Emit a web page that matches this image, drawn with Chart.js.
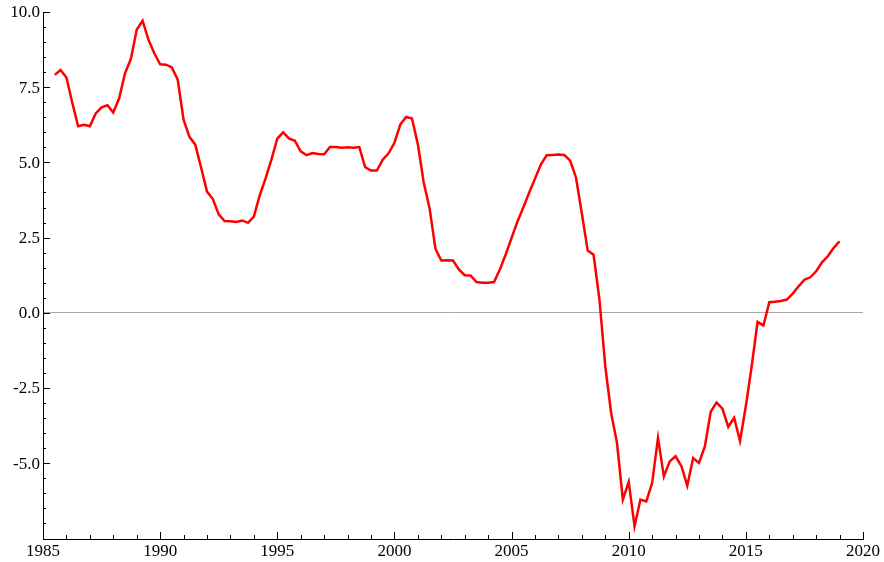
<!DOCTYPE html>
<html>
<head>
<meta charset="utf-8">
<script src="https://cdn.jsdelivr.net/npm/chart.js@4"></script>
<style>
    body { margin: 0; background: #fff; }
    #box { width: 884px; height: 562px; }
</style>
</head>
<body>
<div id="box"><canvas id="myChart"></canvas></div>
<script>
// quarterly series, first point 1985 Q3
const inicio = 1985.5;
const passo = 0.25;
const valores = [
    7.91, 8.07, 7.82, 6.98, 6.20, 6.25, 6.20, 6.63, 6.83, 6.90,
    6.66, 7.13, 7.96, 8.44, 9.41, 9.71, 9.08, 8.63, 8.26, 8.25,
    8.16, 7.75, 6.42, 5.85, 5.59, 4.82, 4.03, 3.78, 3.27, 3.05,
    3.04, 3.02, 3.07, 2.99, 3.20, 3.90, 4.47, 5.09, 5.79, 6.00,
    5.80, 5.72, 5.37, 5.24, 5.31, 5.28, 5.27, 5.51, 5.51, 5.49,
    5.50, 5.49, 5.51, 4.84, 4.73, 4.73, 5.09, 5.30, 5.65, 6.26,
    6.51, 6.46, 5.60, 4.33, 3.48, 2.13, 1.74, 1.75, 1.74, 1.44,
    1.25, 1.24, 1.02, 1.00, 1.00, 1.02, 1.44, 1.94, 2.49, 3.03,
    3.50, 3.99, 4.46, 4.93, 5.24, 5.25, 5.26, 5.25, 5.06, 4.50,
    3.30, 2.07, 1.93, 0.45, -1.78, -3.33, -4.33, -6.21, -5.62, -7.10,
    -6.21, -6.27, -5.66, -4.16, -5.44, -4.94, -4.77, -5.10, -5.75, -4.83,
    -4.99, -4.44, -3.29, -2.98, -3.19, -3.79, -3.49, -4.26, -3.10, -1.77,
    -0.30, -0.42, 0.35, 0.37, 0.39, 0.44, 0.64, 0.88, 1.10, 1.18,
    1.38, 1.68, 1.88, 2.16, 2.38
];
const xTicks = [1985, 1990, 1995, 2000, 2005, 2010, 2015, 2020];
const yTicks = [-5, -2.5, 0, 2.5, 5, 7.5, 10];
const xLabels = ['1985', '1990', '1995', '2000', '2005', '2010', '2015', '2020'];
const yLabels = ['-5.0', '-2.5', '0.0', '2.5', '5.0', '7.5', '10.0'];

const pontos = valores.map((v, i) => ({ x: inicio + i * passo, y: v }));

// inward ticks + serif labels like the original plot
const eixos = {
    id: 'eixos',
    afterDraw(chart) {
        const ctx = chart.ctx;
        const xs = chart.scales.x;
        const ys = chart.scales.y;
        const area = chart.chartArea;
        ctx.save();
        ctx.strokeStyle = '#000';
        ctx.lineWidth = 1;
        ctx.beginPath();
        for (let ano = xs.min; ano <= xs.max; ano++) {
            const px = Math.round(xs.getPixelForValue(ano)) + 0.5;
            const tam = xTicks.includes(ano) ? 7 : 4;
            ctx.moveTo(px, area.bottom);
            ctx.lineTo(px, area.bottom - tam);
        }
        for (let v = -7; v <= ys.max + 0.001; v += 0.5) {
            const py = Math.round(ys.getPixelForValue(v)) + 0.5;
            const tam = yTicks.includes(v) ? 7 : 3;
            ctx.moveTo(area.left, py);
            ctx.lineTo(area.left + tam, py);
        }
        ctx.stroke();

        ctx.fillStyle = '#000';
        ctx.font = "17px 'Liberation Serif', serif";
        ctx.textAlign = 'center';
        ctx.textBaseline = 'alphabetic';
        xTicks.forEach((v, i) => {
            ctx.fillText(xLabels[i], xs.getPixelForValue(v), area.bottom + 17);
        });
        ctx.textAlign = 'right';
        ctx.textBaseline = 'middle';
        yTicks.forEach((v, i) => {
            ctx.fillText(yLabels[i], area.left - 3, ys.getPixelForValue(v) + 1);
        });
        ctx.restore();
    }
};

new Chart(document.getElementById('myChart'), {
    type: 'line',
    data: {
        datasets: [{
            data: pontos,
            borderColor: '#ff0000',
            borderWidth: 2.5,
            pointRadius: 0,
            tension: 0,
            fill: false
        }]
    },
    options: {
        responsive: true,
        maintainAspectRatio: false,
        animation: false,
        layout: { padding: { top: 12, right: 21, left: 0, bottom: 0 } },
        plugins: { legend: { display: false }, tooltip: { enabled: false } },
        scales: {
            x: {
                type: 'linear',
                min: 1985,
                max: 2020,
                afterBuildTicks: (s) => { s.ticks = xTicks.map(v => ({ value: v })); },
                afterFit: (s) => { s.height = 23; },
                grid: { display: false, drawTicks: false },
                border: { display: true, color: '#000', width: 1 },
                ticks: { display: false }
            },
            y: {
                min: -7.52,
                max: 10,
                afterBuildTicks: (s) => { s.ticks = yTicks.map(v => ({ value: v })); },
                afterFit: (s) => { s.width = 43; },
                grid: {
                    drawTicks: false,
                    color: (c) => c.tick && c.tick.value === 0 ? '#a8a8a8' : 'rgba(0,0,0,0)',
                    lineWidth: 1
                },
                border: { display: true, color: '#000', width: 1 },
                ticks: { display: false }
            }
        }
    },
    plugins: [eixos]
});
</script>
</body>
</html>
